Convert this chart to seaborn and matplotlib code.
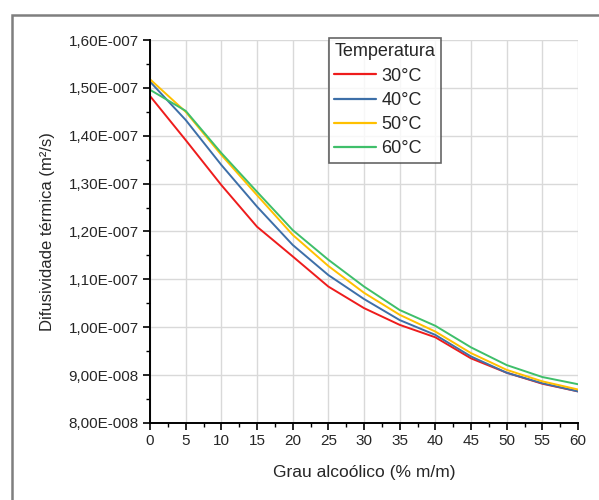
import matplotlib
matplotlib.use("Agg")
import matplotlib.pyplot as plt
import matplotlib.patches as mpatches
from matplotlib.ticker import FuncFormatter, MultipleLocator, AutoMinorLocator
import numpy as np
import pandas as pd
import seaborn as sns

# Data
grau = [0, 5, 10, 15, 20, 25, 30, 35, 40, 45, 50, 55, 60]
dif_30 = [1.483e-7, 1.391e-7, 1.297e-7, 1.210e-7, 1.148e-7, 1.085e-7, 1.040e-7, 1.005e-7, 0.979e-7, 0.935e-7, 0.905e-7, 0.882e-7, 0.866e-7]
dif_40 = [1.513e-7, 1.433e-7, 1.339e-7, 1.252e-7, 1.172e-7, 1.109e-7, 1.059e-7, 1.015e-7, 0.984e-7, 0.939e-7, 0.905e-7, 0.883e-7, 0.866e-7]
dif_50 = [1.518e-7, 1.450e-7, 1.360e-7, 1.276e-7, 1.193e-7, 1.128e-7, 1.072e-7, 1.026e-7, 0.991e-7, 0.946e-7, 0.911e-7, 0.887e-7, 0.870e-7]
dif_60 = [1.496e-7, 1.452e-7, 1.364e-7, 1.283e-7, 1.203e-7, 1.141e-7, 1.085e-7, 1.036e-7, 1.003e-7, 0.958e-7, 0.921e-7, 0.896e-7, 0.881e-7]
temps = ["30°C", "40°C", "50°C", "60°C"]
cores = ["#ee1c1c", "#3d6fa8", "#ffc000", "#3fbf6a"]

rows = []
for t, vals in zip(temps, [dif_30, dif_40, dif_50, dif_60]):
    for g, v in zip(grau, vals):
        rows.append({"Grau": g, "Dif": v, "Temperatura": t})
df = pd.DataFrame(rows)

sns.set_theme(style="white")
plt.rcParams['font.family'] = ['Liberation Sans', 'DejaVu Sans']

fig = plt.figure(figsize=(5.99, 5.00), dpi=100)
ax = fig.add_axes([150/599, 1 - 423/500, (578 - 150)/599, (423 - 40)/500])

sns.lineplot(data=df, x="Grau", y="Dif", hue="Temperatura", palette=cores,
             linewidth=1.4, ax=ax, legend=True)

ax.set_xlim(0, 60)
ax.set_ylim(0.8e-7, 1.6e-7)
ax.xaxis.set_major_locator(MultipleLocator(5))
ax.xaxis.set_minor_locator(AutoMinorLocator(2))
ax.yaxis.set_major_locator(MultipleLocator(0.1e-7))
ax.yaxis.set_minor_locator(AutoMinorLocator(2))


def fmt(v, pos):
    if v == 0:
        return "0"
    e = int(np.floor(np.log10(abs(v)) + 1e-9))
    m = v / 10 ** e
    return f"{m:.2f}".replace(".", ",") + f"E{e:+04d}"


ax.yaxis.set_major_formatter(FuncFormatter(fmt))
ax.grid(True, which="major", color="#d9d9d9", linewidth=1.0)
ax.set_axisbelow(True)

for s in ["top", "right"]:
    ax.spines[s].set_visible(False)
for s in ["left", "bottom"]:
    ax.spines[s].set_color("black")
    ax.spines[s].set_linewidth(1.4)

ax.tick_params(which="major", direction="out", length=5, width=1.2, color="black",
               labelsize=11, pad=3, bottom=True, left=True)
ax.tick_params(which="minor", direction="out", length=3, width=1.0, color="black",
               bottom=True, left=True)

ax.set_xlabel("Grau alcoólico (% m/m)", fontsize=12.5, labelpad=12)
ax.set_ylabel("Difusividade térmica (m²/s)", fontsize=12, labelpad=10)

handles, labels = ax.get_legend_handles_labels()
leg = ax.legend(handles, labels, title="Temperatura", loc="upper left",
                bbox_to_anchor=(329/599, 1 - 38/500), bbox_transform=fig.transFigure,
                fontsize=13, title_fontsize=13, frameon=True, fancybox=False,
                handlelength=2.3, handletextpad=0.3, borderpad=0.3,
                labelspacing=0.4, borderaxespad=0)
leg._legend_box.align = "left"
leg.get_frame().set_edgecolor("#404040")
leg.get_frame().set_linewidth(1.2)
for line in leg.get_lines():
    line.set_linewidth(1.6)

# outer frame of the original picture (cut off at right and bottom)
frame = mpatches.Rectangle((12/599, -0.1), 1.2, 1 - 15/500 + 0.1, transform=fig.transFigure,
                           fill=False, edgecolor="#7f7f7f", linewidth=1.8, clip_on=False)
fig.patches.append(frame)

fig.savefig("out.png", dpi=100)
